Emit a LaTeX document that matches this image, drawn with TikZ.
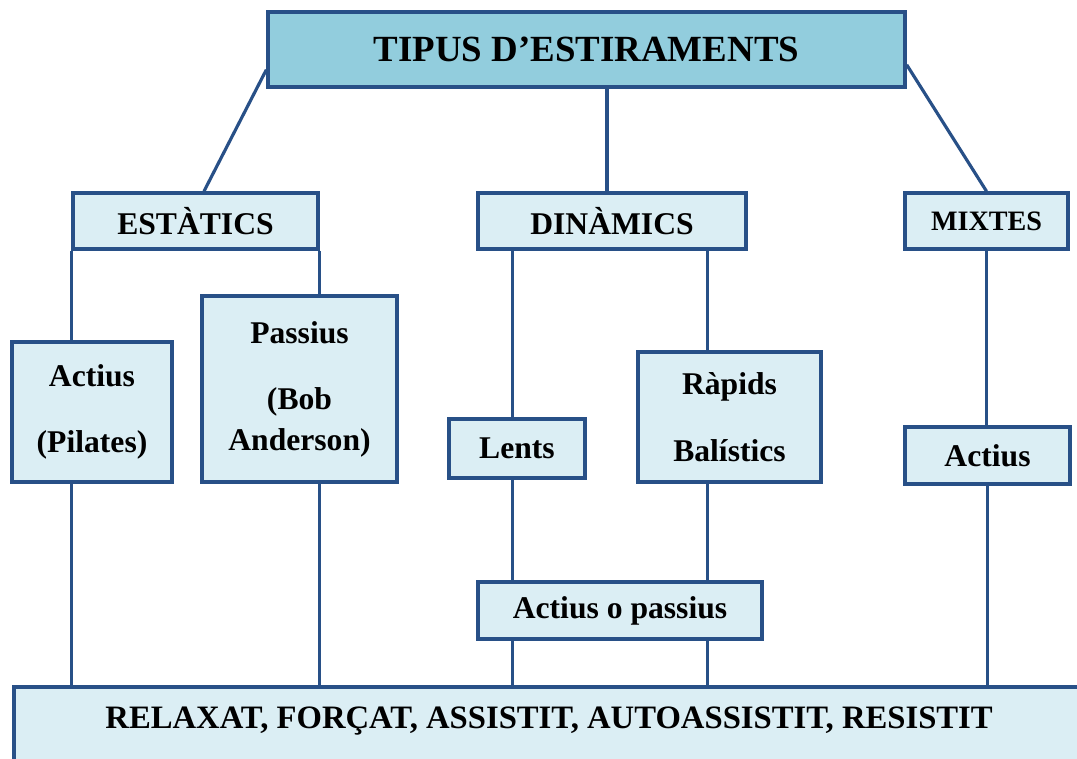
\documentclass[tikz,border=0pt]{standalone}
\usepackage{fontspec}
\setmainfont{Liberation Serif}
\usepackage{tikz}
\usetikzlibrary{calc}

\definecolor{vora}{RGB}{40,80,135}
\definecolor{blauclar}{RGB}{219,238,244}
\definecolor{blautitol}{RGB}{146,205,221}

\tikzset{
  caixa/.style={draw=vora, line width=2pt, fill=blauclar, align=center,
    font=\fontsize{18}{23}\selectfont\bfseries, inner sep=2pt},
  titol/.style={caixa, fill=blautitol, font=\fontsize{21}{25}\selectfont\bfseries},
  linia/.style={draw=vora, line width=1.8pt}
}

\begin{document}
\begin{tikzpicture}[x=0.02cm, y=-0.02cm]
\useasboundingbox (0,0) rectangle (1077,758);

\node[titol, minimum width=12.74cm, minimum height=1.5cm] (tipus) at (586.5,49.5) {TIPUS D'ESTIRAMENTS};

\node[caixa, minimum width=4.9cm, minimum height=1.12cm] (estatics) at (195.5,221) {ESTÀTICS};
\node[caixa, minimum width=5.36cm, minimum height=1.12cm] (dinamics) at (612,221) {DINÀMICS};
\node[caixa, minimum width=3.26cm, minimum height=1.12cm, font=\fontsize{16}{20}\selectfont\bfseries] (mixtes) at (986.5,221) {MIXTES};

\node[caixa, minimum width=3.2cm, minimum height=2.8cm] (actius) at (92,412) {Actius\\[15pt](Pilates)};
\node[caixa, minimum width=3.9cm, minimum height=3.72cm] (passius) at (299.5,389) {Passius\\[15pt](Bob\\Anderson)};
\node[caixa, minimum width=2.72cm, minimum height=1.18cm] (lents) at (517,448.5) {Lents};
\node[caixa, minimum width=3.66cm, minimum height=2.6cm] (rapids) at (729.5,417) {Ràpids\\[15pt]Balístics};
\node[caixa, minimum width=3.3cm, minimum height=1.14cm] (actiusmix) at (987.5,455.5) {Actius};
\node[caixa, minimum width=5.68cm, minimum height=1.14cm] (actpas) at (620,610.5) {Actius o passius};

\node[caixa, anchor=north west, minimum width=21.42cm, inner ysep=0.34cm, text height=0.5cm, text depth=1.2cm, font=\fontsize{18.6}{23}\selectfont\bfseries] (formes) at (12,685) {RELAXAT, FORÇAT, ASSISTIT, AUTOASSISTIT, RESISTIT};

% branques del titol
\draw[linia] ([yshift=0.38cm]tipus.south west) -- ([xshift=0.17cm]estatics.north);
\draw[linia] ([xshift=0.41cm]tipus.south) -- ([xshift=0.41cm]tipus.south |- dinamics.north);
\draw[linia] ([yshift=0.48cm]tipus.south east) -- (mixtes.north);

% estatics
\draw[linia] (estatics.south west) -- (estatics.south west |- actius.north);
\draw[linia] (estatics.south east) -- (estatics.south east |- passius.north);
\draw[linia] (estatics.south west |- actius.south) -- (estatics.south west |- formes.north);
\draw[linia] (estatics.south east |- passius.south) -- (estatics.south east |- formes.north);

% dinamics
\draw[linia] ([xshift=0.72cm]dinamics.south west) -- ([xshift=0.72cm]dinamics.south west |- lents.north);
\draw[linia] ([xshift=-0.8cm]dinamics.south east) -- ([xshift=-0.8cm]dinamics.south east |- rapids.north);
\draw[linia] ([xshift=0.72cm]dinamics.south west |- lents.south) -- ([xshift=0.72cm]dinamics.south west |- actpas.north);
\draw[linia] ([xshift=-0.8cm]dinamics.south east |- rapids.south) -- ([xshift=-0.8cm]dinamics.south east |- actpas.north);
\draw[linia] ([xshift=0.72cm]dinamics.south west |- actpas.south) -- ([xshift=0.72cm]dinamics.south west |- formes.north);
\draw[linia] ([xshift=-0.8cm]dinamics.south east |- actpas.south) -- ([xshift=-0.8cm]dinamics.south east |- formes.north);

% mixtes
\draw[linia] (mixtes.south) -- (mixtes.south |- actiusmix.north);
\draw[linia] (actiusmix.south) -- (actiusmix.south |- formes.north);
\end{tikzpicture}
\end{document}
